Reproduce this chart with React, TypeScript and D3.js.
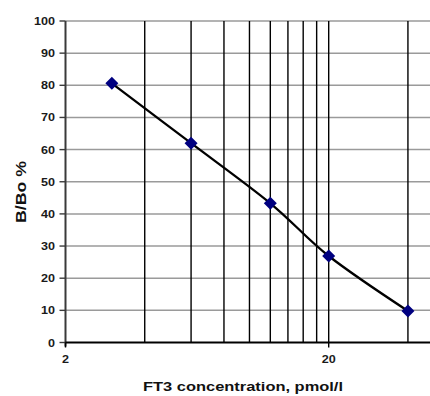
import React from "react";
import * as d3 from "d3";

const concentrations = [3, 6, 12, 20, 40];
const bBoValues = [80.6, 62, 43.3, 26.9, 9.8];
const yTicks = [0, 10, 20, 30, 40, 50, 60, 70, 80, 90, 100];
const xTickLabels = [2, 20];
const xMinorGrid = [4, 6, 8, 10, 12, 14, 16, 18, 20, 40, 60];
const xTitle = "FT3 concentration, pmol/l";
const yTitle = "B/Bo %";

const W = 430;
const H = 396;
const left = 65.5;
const decade = 263.2;
const top = 21;
const bottom = 342.5;

export default function App() {
  const x = d3
    .scaleLog()
    .domain([2, 50])
    .range([left, left + decade * Math.log10(25)]);
  const y = d3.scaleLinear().domain([0, 100]).range([bottom, top]);
  const right = W + 5;

  const pts: [number, number][] = concentrations.map((c, i) => [x(c), y(bBoValues[i])]);
  const line = d3.line().curve(d3.curveCatmullRom.alpha(0))(pts) || "";

  const tickLen = (v: number) => (v === 100 ? 21 : v >= 10 ? 14 : 7);

  return (
    <svg
      width={W}
      height={H}
      style={{ position: "absolute", left: 0, top: 0, background: "#fff" }}
      fontFamily="'Liberation Sans', Arial, sans-serif"
      fontWeight="bold"
    >
      <rect x={0} y={0} width={W} height={H} fill="#fff" />
      {/* horizontal gridlines */}
      {yTicks.slice(1).map((t) => (
        <line key={"h" + t} x1={left} x2={right} y1={y(t)} y2={y(t)} stroke="#9a9a9a" strokeWidth={1.5} />
      ))}
      {/* vertical gridlines */}
      {xMinorGrid.map((g) => (
        <line key={"v" + g} x1={x(g)} x2={x(g)} y1={top} y2={bottom} stroke="#000" strokeWidth={1.4} />
      ))}
      {/* y axis */}
      <line x1={left} x2={left} y1={top} y2={bottom + 4} stroke="#3a3a3a" strokeWidth={2} />
      {yTicks.map((t) => (
        <g key={"yt" + t}>
          <line x1={left - 6} x2={left} y1={y(t)} y2={y(t)} stroke="#3a3a3a" strokeWidth={1.4} />
          <text
            x={55}
            y={y(t)}
            dy="0.35em"
            textAnchor="end"
            fontSize={11.5}
            fill="#1a1a1a"
            textLength={tickLen(t)}
            lengthAdjust="spacingAndGlyphs"
          >
            {t}
          </text>
        </g>
      ))}
      {/* x axis */}
      <line x1={left} x2={right} y1={bottom} y2={bottom} stroke="#000" strokeWidth={2} />
      {xTickLabels.map((t) => (
        <g key={"xt" + t}>
          <line x1={x(t)} x2={x(t)} y1={bottom} y2={bottom + 5} stroke="#000" strokeWidth={1.4} />
          <text
            x={x(t)}
            y={359}
            dy="0.35em"
            textAnchor="middle"
            fontSize={11.5}
            fill="#1a1a1a"
            textLength={t >= 10 ? 14 : 7}
            lengthAdjust="spacingAndGlyphs"
          >
            {t}
          </text>
        </g>
      ))}
      {/* data line */}
      <path d={line} fill="none" stroke="#000" strokeWidth={2.3} />
      {pts.map(([px, py], i) => (
        <path
          key={"m" + i}
          d={`M${px},${py - 6.5}L${px + 6.5},${py}L${px},${py + 6.5}L${px - 6.5},${py}Z`}
          fill="#000080"
        />
      ))}
      {/* titles */}
      <text
        x={243}
        y={391}
        textAnchor="middle"
        fontSize={13}
        fill="#111"
        textLength={200}
        lengthAdjust="spacingAndGlyphs"
      >
        {xTitle}
      </text>
      <text
        transform="translate(26,192) rotate(-90)"
        textAnchor="middle"
        fontSize={14}
        fill="#111"
        textLength={62}
        lengthAdjust="spacingAndGlyphs"
      >
        {yTitle}
      </text>
    </svg>
  );
}
